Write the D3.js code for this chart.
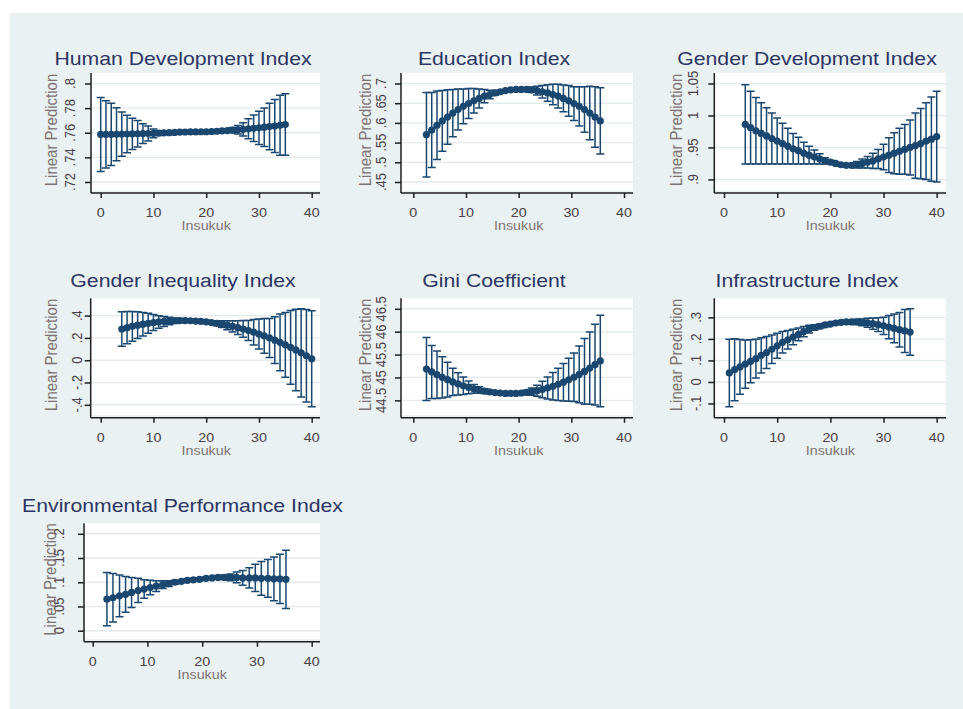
<!DOCTYPE html>
<html>
<head>
<meta charset="utf-8">
<script src="https://cdn.jsdelivr.net/npm/d3@7"></script>
<style>
  body { margin: 0; background: #fff; }
  text { font-family: "Liberation Sans", Arial, sans-serif; }
</style>
</head>
<body>
<div id="chart"></div>
<script>
// ---- data (margins: fit and half-width of 95% CI) ----
var xTicks = [0, 10, 20, 30, 40];

var hdiX   = [0,1,2,3,4,5,6,7,8,9,10,11,12,13,14,15,16,17,18,19,20,21,22,23,24,25,26,27,28,29,30,31,32,33,34,35];
var hdiFit = [.7586,.7587,.7587,.7588,.7589,.7590,.7591,.7592,.7593,.7594,.7595,.7597,.7599,.7601,.7603,.7605,.7606,.7607,.7607,.7608,.7608,.7610,.7612,.7615,.7618,.7621,.7624,.7628,.7632,.7636,.7640,.7645,.7650,.7655,.7661,.7667];
var hdiHw  = [.0300,.0273,.0252,.0216,.0179,.0152,.0127,.0108,.0081,.0060,.0035,.0019,.0012,.0010,.0009,.0008,.0008,.0008,.0008,.0008,.0008,.0008,.0009,.0010,.0014,.0022,.0035,.0054,.0081,.0108,.0135,.0157,.0189,.0216,.0243,.0250];
var hdiTicks = [.72, .74, .76, .78, .8];
var hdiLabels = [".72", ".74", ".76", ".78", ".8"];

var eduX   = [2.5,3.5,4.5,5.5,6.5,7.5,8.5,9.5,10.5,11.5,12.5,13.5,14.5,15.5,16.5,17.5,18.5,19.5,20.5,21.5,22.5,23.5,24.5,25.5,26.5,27.5,28.5,29.5,30.5,31.5,32.5,33.5,34.5,35.5];
var eduFit = [.570,.582,.594,.605,.615,.625,.634,.642,.649,.656,.662,.668,.672,.676,.679,.682,.684,.685,.685,.685,.684,.682,.679,.676,.672,.668,.662,.656,.649,.642,.634,.625,.615,.605];
var eduHw  = [.107,.095,.087,.077,.069,.060,.052,.044,.038,.031,.024,.017,.011,.006,.003,.002,.002,.002,.003,.004,.007,.011,.016,.021,.026,.030,.034,.039,.043,.050,.058,.068,.077,.084];
var eduTicks = [.45, .5, .55, .6, .65, .7];
var eduLabels = [".45", ".5", ".55", ".6", ".65", ".7"];

var gdiX   = [4,5,6,7,8,9,10,11,12,13,14,15,16,17,18,19,20,21,22,23,24,25,26,27,28,29,30,31,32,33,34,35,36,37,38,39,40];
var gdiFit = [.986,.981,.976,.972,.968,.964,.960,.956,.952,.948,.945,.941,.938,.935,.932,.929,.927,.925,.923,.922,.922,.923,.925,.927,.929,.932,.935,.938,.941,.944,.947,.950,.953,.956,.960,.963,.967];
var gdiHw  = [.062,.057,.052,.048,.044,.040,.036,.032,.028,.024,.021,.017,.014,.011,.008,.005,.003,.002,.002,.002,.003,.005,.007,.009,.012,.015,.020,.027,.032,.036,.039,.043,.051,.055,.060,.066,.071];
var gdiTicks = [.9, .95, 1, 1.05];
var gdiLabels = [".9", ".95", "1", "1.05"];

var giiX   = [4,5,6,7,8,9,10,11,12,13,14,15,16,17,18,19,20,21,22,23,24,25,26,27,28,29,30,31,32,33,34,35,36,37,38,39,40];
var giiFit = [.280,.292,.304,.314,.323,.331,.338,.343,.348,.351,.354,.355,.355,.354,.351,.348,.343,.338,.331,.323,.314,.304,.292,.280,.266,.251,.235,.218,.200,.180,.160,.138,.115,.092,.066,.040,.013];
var giiHw  = [.155,.145,.133,.120,.105,.090,.072,.056,.045,.034,.025,.018,.013,.010,.009,.010,.012,.016,.022,.030,.040,.050,.062,.075,.090,.115,.135,.155,.175,.210,.255,.290,.330,.365,.395,.415,.430];
var giiTicks = [-.4, -.2, 0, .2, .4];
var giiLabels = ["-.4", "-.2", "0", ".2", ".4"];

var giniX   = [2.5,3.5,4.5,5.5,6.5,7.5,8.5,9.5,10.5,11.5,12.5,13.5,14.5,15.5,16.5,17.5,18.5,19.5,20.5,21.5,22.5,23.5,24.5,25.5,26.5,27.5,28.5,29.5,30.5,31.5,32.5,33.5,34.5,35.5];
var giniFit = [45.185,45.120,45.060,45.003,44.951,44.903,44.859,44.819,44.784,44.752,44.725,44.702,44.683,44.669,44.658,44.652,44.650,44.652,44.660,44.672,44.689,44.712,44.739,44.771,44.807,44.849,44.896,44.948,45.004,45.066,45.132,45.204,45.280,45.361];
var giniHw  = [.69,.58,.52,.45,.38,.30,.245,.19,.14,.095,.07,.05,.04,.03,.025,.02,.02,.02,.03,.05,.08,.12,.18,.24,.30,.35,.41,.47,.53,.62,.72,.79,.88,1.0];
var giniTicks = [44.5, 45, 45.5, 46, 46.5];
var giniLabels = ["44.5", "45", "45.5", "46", "46.5"];

var infX   = [1,2,3,4,5,6,7,8,9,10,11,12,13,14,15,16,17,18,19,20,21,22,23,24,25,26,27,28,29,30,31,32,33,34,35];
var infFit = [.042,.057,.070,.083,.096,.108,.124,.137,.152,.168,.184,.196,.209,.221,.234,.245,.253,.259,.265,.269,.274,.277,.279,.279,.279,.277,.275,.271,.266,.261,.255,.249,.243,.237,.232];
var infHw  = [.157,.144,.127,.112,.100,.090,.082,.074,.066,.058,.050,.043,.036,.030,.024,.018,.013,.010,.008,.007,.007,.007,.008,.010,.012,.016,.021,.026,.032,.040,.054,.067,.080,.100,.108];
var infTicks = [-.1, 0, .1, .2, .3];
var infLabels = ["-.1", "0", ".1", ".2", ".3"];

var epiX   = [2.6,3.7,4.9,6.0,7.1,8.3,9.4,10.5,11.6,12.8,13.9,15.0,16.2,17.3,18.4,19.5,20.7,21.8,22.9,24.1,25.2,26.3,27.4,28.6,29.7,30.8,32.0,33.1,34.2,35.3];
var epiFit = [.065,.068,.072,.075,.079,.083,.086,.089,.092,.095,.097,.100,.102,.104,.105,.106,.108,.109,.110,.110,.110,.110,.109,.109,.109,.108,.108,.107,.107,.106];
var epiHw  = [.055,.050,.043,.037,.031,.025,.019,.015,.011,.008,.006,.004,.003,.003,.003,.003,.003,.003,.004,.005,.007,.011,.015,.021,.028,.035,.039,.045,.051,.060];
var epiTicks = [0, .05, .1, .15, .2];
var epiLabels = ["0", ".05", ".1", ".15", ".2"];

var titles = ["Human Development Index", "Education Index", "Gender Development Index",
              "Gender Inequality Index", "Gini Coefficient", "Infrastructure Index",
              "Environmental Performance Index"];
var xTitle = "Insukuk";
var yTitle = "Linear Prediction";

var panels = [
  {x: hdiX,  fit: hdiFit,  hw: hdiHw,  ticks: hdiTicks,  labels: hdiLabels},
  {x: eduX,  fit: eduFit,  hw: eduHw,  ticks: eduTicks,  labels: eduLabels},
  {x: gdiX,  fit: gdiFit,  hw: gdiHw,  ticks: gdiTicks,  labels: gdiLabels},
  {x: giiX,  fit: giiFit,  hw: giiHw,  ticks: giiTicks,  labels: giiLabels},
  {x: giniX, fit: giniFit, hw: giniHw, ticks: giniTicks, labels: giniLabels},
  {x: infX,  fit: infFit,  hw: infHw,  ticks: infTicks,  labels: infLabels},
  {x: epiX,  fit: epiFit,  hw: epiHw,  ticks: epiTicks,  labels: epiLabels}
];

// ---- layout of each small graph (pixels) ----
var frames = [
  {axisX: 91,    right: 320, x0: 100.7, x40: 311.7, top: 73,    axisY: 193,   titleX: 183, titleY: 65,    tickLabX: 70,    yTitX: 51},
  {axisX: 401,   right: 633, x0: 413.3, x40: 624,   top: 73,    axisY: 193,   titleX: 494, titleY: 65,    tickLabX: 381,   yTitX: 365},
  {axisX: 714.3, right: 946, x0: 724,   x40: 936.7, top: 73,    axisY: 193,   titleX: 807, titleY: 65,    tickLabX: 692.5, yTitX: 676},
  {axisX: 90.7,  right: 320, x0: 100.7, x40: 311.7, top: 298.3, axisY: 417.7, titleX: 183, titleY: 287,   tickLabX: 76.5,  yTitX: 51.5},
  {axisX: 401,   right: 633, x0: 413.3, x40: 624,   top: 298.3, axisY: 417.7, titleX: 494, titleY: 287,   tickLabX: 381,   yTitX: 365},
  {axisX: 714.3, right: 946, x0: 724,   x40: 936.7, top: 298.3, axisY: 417.7, titleX: 807, titleY: 287,   tickLabX: 696,   yTitX: 676},
  {axisX: 84,    right: 320, x0: 92.7,  x40: 311.7, top: 523.3, axisY: 641.7, titleX: 182.5, titleY: 511.5, tickLabX: 58.5, yTitX: 50}
];

var W = 963, H = 709;
var navy = "#1a476f", axisCol = "#1e1e1e", gridCol = "#e3ebee";

var svg = d3.select("#chart").append("svg")
  .attr("width", W)
  .attr("height", H);

// graph background
svg.append("rect")
  .attr("x", 10).attr("y", 13)
  .attr("width", W - 10).attr("height", H - 13)
  .attr("fill", "#e9f1f3");

panels.forEach(function(p, i) {
  var f = frames[i];
  var lo = p.fit.map(function(d, j) { return d - p.hw[j]; });
  var hi = p.fit.map(function(d, j) { return d + p.hw[j]; });

  var x = d3.scaleLinear().domain([0, 40]).range([f.x0, f.x40]);
  var yMin = Math.min(p.ticks[0], d3.min(lo));
  var yMax = Math.max(p.ticks[p.ticks.length - 1], d3.max(hi));
  var y = d3.scaleLinear().domain([yMin, yMax]).range([f.axisY - 11, f.top + 10.5]);

  var g = svg.append("g");

  // plot region
  g.append("rect")
    .attr("x", f.axisX).attr("y", f.top)
    .attr("width", f.right - f.axisX).attr("height", f.axisY - 2.5 - f.top)
    .attr("fill", "#fff");

  // gridlines
  g.selectAll(".grid")
    .data(p.ticks)
    .enter().append("line")
    .attr("x1", f.axisX).attr("x2", f.right)
    .attr("y1", function(d) { return y(d); })
    .attr("y2", function(d) { return y(d); })
    .attr("stroke", gridCol)
    .attr("stroke-width", 1.4);

  // y axis
  var yAxis = d3.axisLeft(y).tickValues(p.ticks).tickSize(6).tickFormat("");
  var ya = g.append("g")
    .attr("transform", "translate(" + f.axisX + ",0)")
    .call(yAxis);
  ya.select(".domain").attr("d", "M0," + f.top + "V" + f.axisY);
  ya.selectAll("path, line").attr("stroke", axisCol).attr("stroke-width", 1.5);

  // y tick labels, rotated
  g.selectAll(".ylab")
    .data(p.ticks)
    .enter().append("text")
    .attr("transform", function(d) { return "translate(" + f.tickLabX + "," + y(d) + ") scale(1.1,1) rotate(-90)"; })
    .attr("dy", "0.35em")
    .attr("text-anchor", "middle")
    .attr("font-size", "13px")
    .attr("fill", "#4a4048")
    .text(function(d, j) { return p.labels[j]; });

  // y title
  g.append("text")
    .attr("transform", "translate(" + f.yTitX + "," + ((f.top + f.axisY) / 2 - 3) + ") scale(1.1,1) rotate(-90)")
    .attr("dy", "0.35em")
    .attr("text-anchor", "middle")
    .attr("font-size", "15px")
    .attr("fill", "#7d7272")
    .text(yTitle);

  // x axis
  var xAxis = d3.axisBottom(x).tickValues(xTicks).tickSize(5).tickFormat("");
  var xa = g.append("g")
    .attr("transform", "translate(0," + f.axisY + ")")
    .call(xAxis);
  xa.select(".domain").attr("d", "M" + f.axisX + ",0H" + f.right);
  xa.selectAll("path, line").attr("stroke", axisCol).attr("stroke-width", 1.5);

  g.selectAll(".xlab")
    .data(xTicks)
    .enter().append("text")
    .attr("transform", function(d) { return "translate(" + x(d) + "," + (f.axisY + 24) + ") scale(1.1,1)"; })
    .attr("text-anchor", "middle")
    .attr("font-size", "13px")
    .attr("fill", "#4a4048")
    .text(function(d) { return d; });

  g.append("text")
    .attr("transform", "translate(" + x(20) + "," + (f.axisY + 37) + ") scale(1.1,1)")
    .attr("text-anchor", "middle")
    .attr("font-size", "13px")
    .attr("fill", "#7d7272")
    .text(xTitle);

  // title
  g.append("text")
    .attr("transform", "translate(" + f.titleX + "," + f.titleY + ") scale(1.18,1)")
    .attr("text-anchor", "middle")
    .attr("font-size", "18px")
    .attr("fill", "#2c3563")
    .text(titles[i]);

  // confidence interval caps
  var rows = p.x.map(function(d, j) { return {x: d, fit: p.fit[j], lo: lo[j], hi: hi[j]}; });
  var bars = g.append("g").attr("stroke", navy).attr("stroke-width", 1.5).attr("fill", "none");
  bars.selectAll("path")
    .data(rows)
    .enter().append("path")
    .attr("d", function(d) {
      var cx = x(d.x), y1 = y(d.lo), y2 = y(d.hi);
      return "M" + (cx - 4) + "," + y1 + "H" + (cx + 4) + "M" + cx + "," + y1 + "V" + y2 + "M" + (cx - 4) + "," + y2 + "H" + (cx + 4);
    });

  // fitted line and markers
  var line = d3.line()
    .x(function(d) { return x(d.x); })
    .y(function(d) { return y(d.fit); });
  g.append("path")
    .datum(rows)
    .attr("d", line)
    .attr("fill", "none")
    .attr("stroke", navy)
    .attr("stroke-width", 3);

  g.selectAll(".dot")
    .data(rows)
    .enter().append("circle")
    .attr("cx", function(d) { return x(d.x); })
    .attr("cy", function(d) { return y(d.fit); })
    .attr("r", 3.6)
    .attr("fill", navy);
});
</script>
</body>
</html>
